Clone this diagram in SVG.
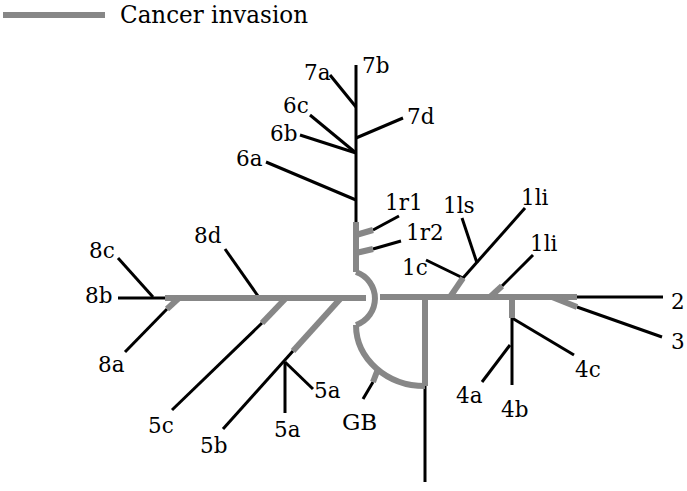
<svg xmlns="http://www.w3.org/2000/svg" width="687" height="491" viewBox="0 0 687 491">
<style>
.b{stroke:#000;stroke-width:3;fill:none}
.g{stroke:#878787;stroke-width:6;fill:none}
text{font-family:"DejaVu Serif","Liberation Serif",serif;font-size:21.5px;fill:#000}
</style>
<rect width="687" height="491" fill="#fff"/>
<g id="legend">
<path class="g" d="M3 15 H105"/>
<text x="120" y="23" style="font-size:24.5px" textLength="188" lengthAdjust="spacingAndGlyphs">Cancer invasion</text>
</g>
<g id="connectors">
<path class="b" d="M356 65 V222"/>
<path class="b" d="M330 75 L356 107"/>
<path class="b" d="M356 138 L403 118"/>
<path class="b" d="M310 115 L356 153"/>
<path class="b" d="M300 135 L356 153"/>
<path class="b" d="M266 162 L356 200"/>
<path class="b" d="M373 230 L399 216"/>
<path class="b" d="M373 249 L401 241"/>
<path class="b" d="M118 298 H165"/>
<path class="b" d="M118 258 L153 297"/>
<path class="b" d="M167 309 L125 352"/>
<path class="b" d="M225 249 L258 296"/>
<path class="b" d="M262 323 L172 410"/>
<path class="b" d="M293 351 L223 429"/>
<path class="b" d="M285 362 V413"/>
<path class="b" d="M285 362 L313 389"/>
<path class="b" d="M373 382 L363 399"/>
<path class="b" d="M425 385 V482"/>
<path class="b" d="M463 278 L525 208"/>
<path class="b" d="M477 263 L462 218"/>
<path class="b" d="M426 260 L463 278"/>
<path class="b" d="M502 286 L533 255"/>
<path class="b" d="M577 297 H663"/>
<path class="b" d="M577 307 L662 337"/>
<path class="b" d="M512 318 V385"/>
<path class="b" d="M512 318 L574 355"/>
<path class="b" d="M510 345 L482 382"/>
<path class="g" d="M356 222 V272"/>
<path class="g" d="M356 272 A28 28 0 0 1 356 325"/>
<path class="g" d="M356 325 A69 61 0 0 0 425 386"/>
<path class="g" d="M356 235 L373 230"/>
<path class="g" d="M356 253 L373 249"/>
<path class="g" d="M165 298 H366"/>
<path class="g" d="M179 298 L167 309"/>
<path class="g" d="M286 298 L262 323"/>
<path class="g" d="M341 298 L293 351"/>
<path class="g" d="M380 297 H577"/>
<path class="g" d="M378 369 L373 382"/>
<path class="g" d="M425 297 V386"/>
<path class="g" d="M450 297 L463 278"/>
<path class="g" d="M490 297 L502 286"/>
<path class="g" d="M552 297 L577 307"/>
<path class="g" d="M512 297 V318"/>
</g>
<g id="n7a"><text x="304" y="80">7a</text></g>
<g id="n7b"><text x="362" y="73">7b</text></g>
<g id="n6c"><text x="283" y="113">6c</text></g>
<g id="n6b"><text x="270" y="141">6b</text></g>
<g id="n6a"><text x="236" y="166">6a</text></g>
<g id="n7d"><text x="407" y="124">7d</text></g>
<g id="n1r1"><text x="385" y="210">1r1</text></g>
<g id="n1r2"><text x="406" y="240">1r2</text></g>
<g id="n1ls"><text x="443" y="213">1ls</text></g>
<g id="n1li"><text x="521" y="205">1li</text></g>
<g id="n1c"><text x="402" y="275">1c</text></g>
<g id="n1li2"><text x="530" y="251">1li</text></g>
<g id="n8c"><text x="89" y="258">8c</text></g>
<g id="n8d"><text x="194" y="243">8d</text></g>
<g id="n8b"><text x="85" y="303">8b</text></g>
<g id="n8a"><text x="98" y="372">8a</text></g>
<g id="n5c"><text x="148" y="433">5c</text></g>
<g id="n5b"><text x="200" y="453">5b</text></g>
<g id="n5a1"><text x="274" y="437">5a</text></g>
<g id="n5a2"><text x="314" y="398">5a</text></g>
<g id="nGB"><text x="342" y="430" style="font-size:23px">GB</text></g>
<g id="n4a"><text x="456" y="403">4a</text></g>
<g id="n4b"><text x="501" y="417">4b</text></g>
<g id="n4c"><text x="575" y="377">4c</text></g>
<g id="n2"><text x="671" y="309">2</text></g>
<g id="n3"><text x="671" y="349">3</text></g>
</svg>
